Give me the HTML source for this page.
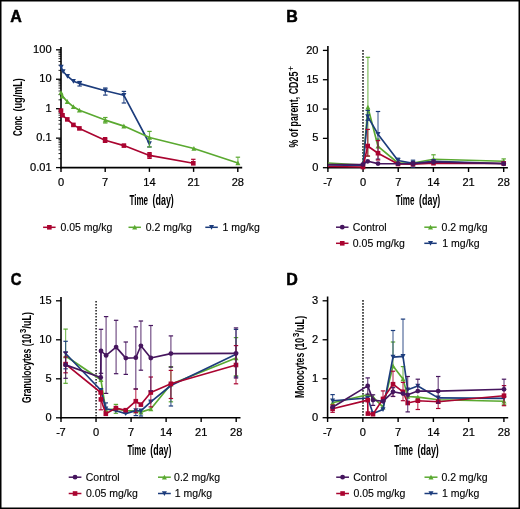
<!DOCTYPE html><html><head><meta charset="utf-8"><style>html,body{margin:0;padding:0;background:#fff;}svg{display:block;will-change:transform;}text{font-family:"Liberation Sans",sans-serif;fill:#000;}</style></head><body>
<svg width="520" height="509" viewBox="0 0 520 509">
<rect x="0" y="0" width="520" height="509" fill="#fff"/>
<text transform="translate(10.35,21.6) scale(1.0,1)" font-size="16" font-weight="bold" stroke="#000" stroke-width="0.5" stroke-linejoin="round">A</text>
<text transform="translate(286.18,21.6) scale(1.0,1)" font-size="16" font-weight="bold" stroke="#000" stroke-width="0.5" stroke-linejoin="round">B</text>
<text transform="translate(10.75,284.95) scale(0.93,1)" font-size="16" font-weight="bold" stroke="#000" stroke-width="0.5" stroke-linejoin="round">C</text>
<text transform="translate(286.18,284.9) scale(1.0,1)" font-size="16" font-weight="bold" stroke="#000" stroke-width="0.5" stroke-linejoin="round">D</text>
<line x1="61" y1="47" x2="61" y2="168.4" stroke="#000" stroke-width="1.6" />
<line x1="60.2" y1="167.6" x2="242.2" y2="167.6" stroke="#000" stroke-width="1.6" />
<line x1="56" y1="49.8" x2="61" y2="49.8" stroke="#000" stroke-width="1.3" />
<text transform="translate(51.60,52.90) scale(1.066,1)" font-size="10.4" text-anchor="end" stroke="#000" stroke-width="0.2">100</text>
<line x1="56" y1="79.25" x2="61" y2="79.25" stroke="#000" stroke-width="1.3" />
<text transform="translate(51.60,82.35) scale(1.066,1)" font-size="10.4" text-anchor="end" stroke="#000" stroke-width="0.2">10</text>
<line x1="56" y1="108.7" x2="61" y2="108.7" stroke="#000" stroke-width="1.3" />
<text transform="translate(51.60,111.80) scale(1.066,1)" font-size="10.4" text-anchor="end" stroke="#000" stroke-width="0.2">1</text>
<line x1="56" y1="138.15" x2="61" y2="138.15" stroke="#000" stroke-width="1.3" />
<text transform="translate(51.60,141.25) scale(1.066,1)" font-size="10.4" text-anchor="end" stroke="#000" stroke-width="0.2">0.1</text>
<line x1="56" y1="167.6" x2="61" y2="167.6" stroke="#000" stroke-width="1.3" />
<text transform="translate(51.60,170.70) scale(1.066,1)" font-size="10.4" text-anchor="end" stroke="#000" stroke-width="0.2">0.01</text>
<line x1="58.5" y1="70.38466662769575" x2="61" y2="70.38466662769575" stroke="#000" stroke-width="0.85" />
<line x1="58.5" y1="65.19877904850594" x2="61" y2="65.19877904850594" stroke="#000" stroke-width="0.85" />
<line x1="58.5" y1="61.5193332553915" x2="61" y2="61.5193332553915" stroke="#000" stroke-width="0.85" />
<line x1="58.5" y1="58.66533337230425" x2="61" y2="58.66533337230425" stroke="#000" stroke-width="0.85" />
<line x1="58.5" y1="56.33344567620169" x2="61" y2="56.33344567620169" stroke="#000" stroke-width="0.85" />
<line x1="58.5" y1="54.36186272158014" x2="61" y2="54.36186272158014" stroke="#000" stroke-width="0.85" />
<line x1="58.5" y1="52.65399988308726" x2="61" y2="52.65399988308726" stroke="#000" stroke-width="0.85" />
<line x1="58.5" y1="51.14755809701188" x2="61" y2="51.14755809701188" stroke="#000" stroke-width="0.85" />
<line x1="58.5" y1="99.83466662769575" x2="61" y2="99.83466662769575" stroke="#000" stroke-width="0.85" />
<line x1="58.5" y1="94.64877904850594" x2="61" y2="94.64877904850594" stroke="#000" stroke-width="0.85" />
<line x1="58.5" y1="90.9693332553915" x2="61" y2="90.9693332553915" stroke="#000" stroke-width="0.85" />
<line x1="58.5" y1="88.11533337230425" x2="61" y2="88.11533337230425" stroke="#000" stroke-width="0.85" />
<line x1="58.5" y1="85.7834456762017" x2="61" y2="85.7834456762017" stroke="#000" stroke-width="0.85" />
<line x1="58.5" y1="83.81186272158014" x2="61" y2="83.81186272158014" stroke="#000" stroke-width="0.85" />
<line x1="58.5" y1="82.10399988308725" x2="61" y2="82.10399988308725" stroke="#000" stroke-width="0.85" />
<line x1="58.5" y1="80.59755809701188" x2="61" y2="80.59755809701188" stroke="#000" stroke-width="0.85" />
<line x1="58.5" y1="129.28466662769577" x2="61" y2="129.28466662769577" stroke="#000" stroke-width="0.85" />
<line x1="58.5" y1="124.09877904850595" x2="61" y2="124.09877904850595" stroke="#000" stroke-width="0.85" />
<line x1="58.5" y1="120.4193332553915" x2="61" y2="120.4193332553915" stroke="#000" stroke-width="0.85" />
<line x1="58.5" y1="117.56533337230425" x2="61" y2="117.56533337230425" stroke="#000" stroke-width="0.85" />
<line x1="58.5" y1="115.2334456762017" x2="61" y2="115.2334456762017" stroke="#000" stroke-width="0.85" />
<line x1="58.5" y1="113.26186272158014" x2="61" y2="113.26186272158014" stroke="#000" stroke-width="0.85" />
<line x1="58.5" y1="111.55399988308727" x2="61" y2="111.55399988308727" stroke="#000" stroke-width="0.85" />
<line x1="58.5" y1="110.04755809701189" x2="61" y2="110.04755809701189" stroke="#000" stroke-width="0.85" />
<line x1="58.5" y1="158.73466662769576" x2="61" y2="158.73466662769576" stroke="#000" stroke-width="0.85" />
<line x1="58.5" y1="153.54877904850593" x2="61" y2="153.54877904850593" stroke="#000" stroke-width="0.85" />
<line x1="58.5" y1="149.8693332553915" x2="61" y2="149.8693332553915" stroke="#000" stroke-width="0.85" />
<line x1="58.5" y1="147.01533337230424" x2="61" y2="147.01533337230424" stroke="#000" stroke-width="0.85" />
<line x1="58.5" y1="144.6834456762017" x2="61" y2="144.6834456762017" stroke="#000" stroke-width="0.85" />
<line x1="58.5" y1="142.71186272158013" x2="61" y2="142.71186272158013" stroke="#000" stroke-width="0.85" />
<line x1="58.5" y1="141.00399988308726" x2="61" y2="141.00399988308726" stroke="#000" stroke-width="0.85" />
<line x1="58.5" y1="139.49755809701188" x2="61" y2="139.49755809701188" stroke="#000" stroke-width="0.85" />
<line x1="61.0" y1="167.6" x2="61.0" y2="171.9" stroke="#000" stroke-width="1.4" />
<text transform="translate(61.00,185.70) scale(1.066,1)" font-size="10.4" text-anchor="middle" stroke="#000" stroke-width="0.2">0</text>
<line x1="105.2" y1="167.6" x2="105.2" y2="171.9" stroke="#000" stroke-width="1.4" />
<text transform="translate(105.20,185.70) scale(1.066,1)" font-size="10.4" text-anchor="middle" stroke="#000" stroke-width="0.2">7</text>
<line x1="149.4" y1="167.6" x2="149.4" y2="171.9" stroke="#000" stroke-width="1.4" />
<text transform="translate(149.40,185.70) scale(1.066,1)" font-size="10.4" text-anchor="middle" stroke="#000" stroke-width="0.2">14</text>
<line x1="193.60000000000002" y1="167.6" x2="193.60000000000002" y2="171.9" stroke="#000" stroke-width="1.4" />
<text transform="translate(193.60,185.70) scale(1.066,1)" font-size="10.4" text-anchor="middle" stroke="#000" stroke-width="0.2">21</text>
<line x1="237.8" y1="167.6" x2="237.8" y2="171.9" stroke="#000" stroke-width="1.4" />
<text transform="translate(237.80,185.70) scale(1.066,1)" font-size="10.4" text-anchor="middle" stroke="#000" stroke-width="0.2">28</text>
<line x1="79.6" y1="83.6" x2="79.6" y2="81.5" stroke="#1c3c7c" stroke-width="1.2" stroke-opacity="0.75"/>
<line x1="77.39999999999999" y1="81.5" x2="81.8" y2="81.5" stroke="#1c3c7c" stroke-width="1.2" />
<line x1="79.6" y1="83.6" x2="79.6" y2="86" stroke="#1c3c7c" stroke-width="1.2" stroke-opacity="0.75"/>
<line x1="77.39999999999999" y1="86" x2="81.8" y2="86" stroke="#1c3c7c" stroke-width="1.2" />
<line x1="105.3" y1="90.8" x2="105.3" y2="88" stroke="#1c3c7c" stroke-width="1.2" stroke-opacity="0.75"/>
<line x1="103.1" y1="88" x2="107.5" y2="88" stroke="#1c3c7c" stroke-width="1.2" />
<line x1="105.3" y1="90.8" x2="105.3" y2="95.1" stroke="#1c3c7c" stroke-width="1.2" stroke-opacity="0.75"/>
<line x1="103.1" y1="95.1" x2="107.5" y2="95.1" stroke="#1c3c7c" stroke-width="1.2" />
<line x1="123.9" y1="95.3" x2="123.9" y2="91.4" stroke="#1c3c7c" stroke-width="1.2" stroke-opacity="0.75"/>
<line x1="121.7" y1="91.4" x2="126.10000000000001" y2="91.4" stroke="#1c3c7c" stroke-width="1.2" />
<line x1="123.9" y1="95.3" x2="123.9" y2="103" stroke="#1c3c7c" stroke-width="1.2" stroke-opacity="0.75"/>
<line x1="121.7" y1="103" x2="126.10000000000001" y2="103" stroke="#1c3c7c" stroke-width="1.2" />
<line x1="149.4" y1="143.5" x2="149.4" y2="147" stroke="#1c3c7c" stroke-width="1.2" stroke-opacity="0.75"/>
<line x1="147.20000000000002" y1="147" x2="151.6" y2="147" stroke="#1c3c7c" stroke-width="1.2" />
<path d="M61.20 67.10L63.10 71.50L67.50 76.20L73.40 81.20L79.60 83.60L105.30 90.80L123.90 95.30L149.40 143.50" fill="none" stroke="#1c3c7c" stroke-width="1.65" stroke-linejoin="round"/>
<path d="M58.70 64.80L63.70 64.80L61.20 69.60Z" fill="#1c3c7c"/>
<path d="M60.60 69.20L65.60 69.20L63.10 74.00Z" fill="#1c3c7c"/>
<path d="M65.00 73.90L70.00 73.90L67.50 78.70Z" fill="#1c3c7c"/>
<path d="M70.90 78.90L75.90 78.90L73.40 83.70Z" fill="#1c3c7c"/>
<path d="M77.10 81.30L82.10 81.30L79.60 86.10Z" fill="#1c3c7c"/>
<path d="M102.80 88.50L107.80 88.50L105.30 93.30Z" fill="#1c3c7c"/>
<path d="M121.40 93.00L126.40 93.00L123.90 97.80Z" fill="#1c3c7c"/>
<path d="M146.90 141.20L151.90 141.20L149.40 146.00Z" fill="#1c3c7c"/>
<line x1="105.1" y1="140.2" x2="105.1" y2="137.6" stroke="#aa0430" stroke-width="1.2" stroke-opacity="0.75"/>
<line x1="102.89999999999999" y1="137.6" x2="107.3" y2="137.6" stroke="#aa0430" stroke-width="1.2" />
<line x1="105.1" y1="140.2" x2="105.1" y2="142.4" stroke="#aa0430" stroke-width="1.2" stroke-opacity="0.75"/>
<line x1="102.89999999999999" y1="142.4" x2="107.3" y2="142.4" stroke="#aa0430" stroke-width="1.2" />
<line x1="149.5" y1="155.4" x2="149.5" y2="152.6" stroke="#aa0430" stroke-width="1.2" stroke-opacity="0.75"/>
<line x1="147.3" y1="152.6" x2="151.7" y2="152.6" stroke="#aa0430" stroke-width="1.2" />
<line x1="149.5" y1="155.4" x2="149.5" y2="158.4" stroke="#aa0430" stroke-width="1.2" stroke-opacity="0.75"/>
<line x1="147.3" y1="158.4" x2="151.7" y2="158.4" stroke="#aa0430" stroke-width="1.2" />
<line x1="193.3" y1="163.3" x2="193.3" y2="159.3" stroke="#aa0430" stroke-width="1.2" stroke-opacity="0.75"/>
<line x1="191.10000000000002" y1="159.3" x2="195.5" y2="159.3" stroke="#aa0430" stroke-width="1.2" />
<path d="M61.00 110.60L62.50 115.30L67.30 119.40L73.40 124.90L79.40 128.40L105.10 140.20L123.90 145.60L149.50 155.40L193.30 163.30" fill="none" stroke="#aa0430" stroke-width="1.65" stroke-linejoin="round"/>
<rect x="58.70" y="108.30" width="4.6" height="4.6" fill="#aa0430"/>
<rect x="60.20" y="113.00" width="4.6" height="4.6" fill="#aa0430"/>
<rect x="65.00" y="117.10" width="4.6" height="4.6" fill="#aa0430"/>
<rect x="71.10" y="122.60" width="4.6" height="4.6" fill="#aa0430"/>
<rect x="77.10" y="126.10" width="4.6" height="4.6" fill="#aa0430"/>
<rect x="102.80" y="137.90" width="4.6" height="4.6" fill="#aa0430"/>
<rect x="121.60" y="143.30" width="4.6" height="4.6" fill="#aa0430"/>
<rect x="147.20" y="153.10" width="4.6" height="4.6" fill="#aa0430"/>
<rect x="191.00" y="161.00" width="4.6" height="4.6" fill="#aa0430"/>
<line x1="105.3" y1="120.1" x2="105.3" y2="117.5" stroke="#5aa930" stroke-width="1.2" stroke-opacity="0.75"/>
<line x1="103.1" y1="117.5" x2="107.5" y2="117.5" stroke="#5aa930" stroke-width="1.2" />
<line x1="105.3" y1="120.1" x2="105.3" y2="123" stroke="#5aa930" stroke-width="1.2" stroke-opacity="0.75"/>
<line x1="103.1" y1="123" x2="107.5" y2="123" stroke="#5aa930" stroke-width="1.2" />
<line x1="149.5" y1="137.5" x2="149.5" y2="131.4" stroke="#5aa930" stroke-width="1.2" stroke-opacity="0.75"/>
<line x1="147.3" y1="131.4" x2="151.7" y2="131.4" stroke="#5aa930" stroke-width="1.2" />
<line x1="149.5" y1="137.5" x2="149.5" y2="146.9" stroke="#5aa930" stroke-width="1.2" stroke-opacity="0.75"/>
<line x1="147.3" y1="146.9" x2="151.7" y2="146.9" stroke="#5aa930" stroke-width="1.2" />
<line x1="237.9" y1="163.0" x2="237.9" y2="157.2" stroke="#5aa930" stroke-width="1.2" stroke-opacity="0.75"/>
<line x1="235.70000000000002" y1="157.2" x2="240.1" y2="157.2" stroke="#5aa930" stroke-width="1.2" />
<path d="M61.00 92.40L62.40 96.10L67.30 101.60L73.40 106.80L79.40 110.30L105.30 120.10L123.90 126.10L149.50 137.50L193.90 148.50L237.90 163.00" fill="none" stroke="#5aa930" stroke-width="1.65" stroke-linejoin="round"/>
<path d="M58.50 94.70L63.50 94.70L61.00 89.90Z" fill="#5aa930"/>
<path d="M59.90 98.40L64.90 98.40L62.40 93.60Z" fill="#5aa930"/>
<path d="M64.80 103.90L69.80 103.90L67.30 99.10Z" fill="#5aa930"/>
<path d="M70.90 109.10L75.90 109.10L73.40 104.30Z" fill="#5aa930"/>
<path d="M76.90 112.60L81.90 112.60L79.40 107.80Z" fill="#5aa930"/>
<path d="M102.80 122.40L107.80 122.40L105.30 117.60Z" fill="#5aa930"/>
<path d="M121.40 128.40L126.40 128.40L123.90 123.60Z" fill="#5aa930"/>
<path d="M147.00 139.80L152.00 139.80L149.50 135.00Z" fill="#5aa930"/>
<path d="M191.40 150.80L196.40 150.80L193.90 146.00Z" fill="#5aa930"/>
<path d="M235.40 165.30L240.40 165.30L237.90 160.50Z" fill="#5aa930"/>
<text transform="translate(129.41,204.6) scale(0.5784,1)" x="0" y="0" font-size="13.9" font-weight="bold">Time</text>
<text transform="translate(152.56,204.6) scale(0.6410,1)" x="0" y="0" font-size="13.9" font-weight="bold">(day)</text>
<text transform="translate(21.8,135.93) rotate(-90) scale(0.5871,1)" x="0" y="0" font-size="13.6" font-weight="bold">Conc</text>
<text transform="translate(21.8,111.55) rotate(-90) scale(0.6712,1)" x="0" y="0" font-size="13.6" font-weight="bold">(ug/mL)</text>
<line x1="43.1" y1="227.3" x2="55.6" y2="227.3" stroke="#aa0430" stroke-width="1.5" />
<rect x="47.05" y="225.00" width="4.6" height="4.6" fill="#aa0430"/>
<text x="60.39" y="230.70" font-size="10.5" stroke="#000" stroke-width="0.12">0.05 mg/kg</text>
<line x1="128.5" y1="227.3" x2="140.9" y2="227.3" stroke="#5aa930" stroke-width="1.5" />
<path d="M132.20 229.60L137.20 229.60L134.70 224.80Z" fill="#5aa930"/>
<text x="145.69" y="230.70" font-size="10.5" stroke="#000" stroke-width="0.12">0.2 mg/kg</text>
<line x1="205.3" y1="227.3" x2="217.8" y2="227.3" stroke="#1c3c7c" stroke-width="1.5" />
<path d="M209.05 225.00L214.05 225.00L211.55 229.80Z" fill="#1c3c7c"/>
<text x="222.60" y="230.70" font-size="10.5" stroke="#000" stroke-width="0.12">1 mg/kg</text>
<line x1="327.9" y1="46" x2="327.9" y2="168.5" stroke="#000" stroke-width="1.6" />
<line x1="327.09999999999997" y1="167.7" x2="507.9" y2="167.7" stroke="#000" stroke-width="1.6" />
<line x1="322.9" y1="167.7" x2="327.9" y2="167.7" stroke="#000" stroke-width="1.3" />
<text transform="translate(318.50,170.80) scale(1.066,1)" font-size="10.4" text-anchor="end" stroke="#000" stroke-width="0.2">0</text>
<line x1="322.9" y1="138.375" x2="327.9" y2="138.375" stroke="#000" stroke-width="1.3" />
<text transform="translate(318.50,141.47) scale(1.066,1)" font-size="10.4" text-anchor="end" stroke="#000" stroke-width="0.2">5</text>
<line x1="322.9" y1="109.05" x2="327.9" y2="109.05" stroke="#000" stroke-width="1.3" />
<text transform="translate(318.50,112.15) scale(1.066,1)" font-size="10.4" text-anchor="end" stroke="#000" stroke-width="0.2">10</text>
<line x1="322.9" y1="79.725" x2="327.9" y2="79.725" stroke="#000" stroke-width="1.3" />
<text transform="translate(318.50,82.82) scale(1.066,1)" font-size="10.4" text-anchor="end" stroke="#000" stroke-width="0.2">15</text>
<line x1="322.9" y1="50.400000000000006" x2="327.9" y2="50.400000000000006" stroke="#000" stroke-width="1.3" />
<text transform="translate(318.50,53.50) scale(1.066,1)" font-size="10.4" text-anchor="end" stroke="#000" stroke-width="0.2">20</text>
<line x1="327.9" y1="167.7" x2="327.9" y2="172.0" stroke="#000" stroke-width="1.4" />
<text transform="translate(327.90,185.80) scale(1.066,1)" font-size="10.4" text-anchor="middle" stroke="#000" stroke-width="0.2">-<tspan dx="-0.55">7</tspan></text>
<line x1="363.06" y1="167.7" x2="363.06" y2="172.0" stroke="#000" stroke-width="1.4" />
<text transform="translate(363.06,185.80) scale(1.066,1)" font-size="10.4" text-anchor="middle" stroke="#000" stroke-width="0.2">0</text>
<line x1="398.21999999999997" y1="167.7" x2="398.21999999999997" y2="172.0" stroke="#000" stroke-width="1.4" />
<text transform="translate(398.22,185.80) scale(1.066,1)" font-size="10.4" text-anchor="middle" stroke="#000" stroke-width="0.2">7</text>
<line x1="433.38" y1="167.7" x2="433.38" y2="172.0" stroke="#000" stroke-width="1.4" />
<text transform="translate(433.38,185.80) scale(1.066,1)" font-size="10.4" text-anchor="middle" stroke="#000" stroke-width="0.2">14</text>
<line x1="468.53999999999996" y1="167.7" x2="468.53999999999996" y2="172.0" stroke="#000" stroke-width="1.4" />
<text transform="translate(468.54,185.80) scale(1.066,1)" font-size="10.4" text-anchor="middle" stroke="#000" stroke-width="0.2">21</text>
<line x1="503.7" y1="167.7" x2="503.7" y2="172.0" stroke="#000" stroke-width="1.4" />
<text transform="translate(503.70,185.80) scale(1.066,1)" font-size="10.4" text-anchor="middle" stroke="#000" stroke-width="0.2">28</text>
<line x1="363" y1="50.1" x2="363" y2="167" stroke="#2a2a2a" stroke-width="1.6" stroke-dasharray="1.6 1.4"/>
<line x1="367.9" y1="107.3" x2="367.9" y2="57.3" stroke="#5aa930" stroke-width="1.2" stroke-opacity="0.75"/>
<line x1="365.7" y1="57.3" x2="370.09999999999997" y2="57.3" stroke="#5aa930" stroke-width="1.2" />
<line x1="367.9" y1="107.3" x2="367.9" y2="156.2" stroke="#5aa930" stroke-width="1.2" stroke-opacity="0.75"/>
<line x1="365.7" y1="156.2" x2="370.09999999999997" y2="156.2" stroke="#5aa930" stroke-width="1.2" />
<line x1="378" y1="146.3" x2="378" y2="139.1" stroke="#5aa930" stroke-width="1.2" stroke-opacity="0.75"/>
<line x1="375.8" y1="139.1" x2="380.2" y2="139.1" stroke="#5aa930" stroke-width="1.2" />
<line x1="433.5" y1="159.2" x2="433.5" y2="154.8" stroke="#5aa930" stroke-width="1.2" stroke-opacity="0.75"/>
<line x1="431.3" y1="154.8" x2="435.7" y2="154.8" stroke="#5aa930" stroke-width="1.2" />
<line x1="503.7" y1="161.2" x2="503.7" y2="158.9" stroke="#5aa930" stroke-width="1.2" stroke-opacity="0.75"/>
<line x1="501.5" y1="158.9" x2="505.9" y2="158.9" stroke="#5aa930" stroke-width="1.2" />
<path d="M328.00 163.00L363.00 165.00L367.90 107.30L378.00 146.30L398.00 163.00L413.00 163.00L433.50 159.20L503.70 161.20" fill="none" stroke="#5aa930" stroke-width="1.65" stroke-linejoin="round"/>
<path d="M360.50 167.30L365.50 167.30L363.00 162.50Z" fill="#5aa930"/>
<path d="M365.40 109.60L370.40 109.60L367.90 104.80Z" fill="#5aa930"/>
<path d="M375.50 148.60L380.50 148.60L378.00 143.80Z" fill="#5aa930"/>
<path d="M395.50 165.30L400.50 165.30L398.00 160.50Z" fill="#5aa930"/>
<path d="M410.50 165.30L415.50 165.30L413.00 160.50Z" fill="#5aa930"/>
<path d="M431.00 161.50L436.00 161.50L433.50 156.70Z" fill="#5aa930"/>
<path d="M501.20 163.50L506.20 163.50L503.70 158.70Z" fill="#5aa930"/>
<line x1="367.7" y1="116.5" x2="367.7" y2="110.4" stroke="#1c3c7c" stroke-width="1.2" stroke-opacity="0.75"/>
<line x1="365.5" y1="110.4" x2="369.9" y2="110.4" stroke="#1c3c7c" stroke-width="1.2" />
<line x1="367.7" y1="116.5" x2="367.7" y2="120.3" stroke="#1c3c7c" stroke-width="1.2" stroke-opacity="0.75"/>
<line x1="365.5" y1="120.3" x2="369.9" y2="120.3" stroke="#1c3c7c" stroke-width="1.2" />
<line x1="378" y1="134.2" x2="378" y2="111.5" stroke="#1c3c7c" stroke-width="1.2" stroke-opacity="0.75"/>
<line x1="375.8" y1="111.5" x2="380.2" y2="111.5" stroke="#1c3c7c" stroke-width="1.2" />
<line x1="378" y1="134.2" x2="378" y2="159.1" stroke="#1c3c7c" stroke-width="1.2" stroke-opacity="0.75"/>
<line x1="375.8" y1="159.1" x2="380.2" y2="159.1" stroke="#1c3c7c" stroke-width="1.2" />
<line x1="398" y1="160.5" x2="398" y2="158.2" stroke="#1c3c7c" stroke-width="1.2" stroke-opacity="0.75"/>
<line x1="395.8" y1="158.2" x2="400.2" y2="158.2" stroke="#1c3c7c" stroke-width="1.2" />
<line x1="413" y1="163.3" x2="413" y2="160.2" stroke="#1c3c7c" stroke-width="1.2" stroke-opacity="0.75"/>
<line x1="410.8" y1="160.2" x2="415.2" y2="160.2" stroke="#1c3c7c" stroke-width="1.2" />
<line x1="413" y1="163.3" x2="413" y2="167.1" stroke="#1c3c7c" stroke-width="1.2" stroke-opacity="0.75"/>
<line x1="410.8" y1="167.1" x2="415.2" y2="167.1" stroke="#1c3c7c" stroke-width="1.2" />
<path d="M328.00 165.00L363.00 165.50L367.70 116.50L378.00 134.20L398.00 160.50L413.00 163.30L433.50 161.30L503.70 163.50" fill="none" stroke="#1c3c7c" stroke-width="1.65" stroke-linejoin="round"/>
<path d="M360.50 163.20L365.50 163.20L363.00 168.00Z" fill="#1c3c7c"/>
<path d="M365.20 114.20L370.20 114.20L367.70 119.00Z" fill="#1c3c7c"/>
<path d="M375.50 131.90L380.50 131.90L378.00 136.70Z" fill="#1c3c7c"/>
<path d="M395.50 158.20L400.50 158.20L398.00 163.00Z" fill="#1c3c7c"/>
<path d="M410.50 161.00L415.50 161.00L413.00 165.80Z" fill="#1c3c7c"/>
<path d="M431.00 159.00L436.00 159.00L433.50 163.80Z" fill="#1c3c7c"/>
<path d="M501.20 161.20L506.20 161.20L503.70 166.00Z" fill="#1c3c7c"/>
<line x1="367.7" y1="146" x2="367.7" y2="129.4" stroke="#aa0430" stroke-width="1.2" stroke-opacity="0.75"/>
<line x1="365.5" y1="129.4" x2="369.9" y2="129.4" stroke="#aa0430" stroke-width="1.2" />
<line x1="367.7" y1="146" x2="367.7" y2="156" stroke="#aa0430" stroke-width="1.2" stroke-opacity="0.75"/>
<line x1="365.5" y1="156" x2="369.9" y2="156" stroke="#aa0430" stroke-width="1.2" />
<line x1="378" y1="153.2" x2="378" y2="140.6" stroke="#aa0430" stroke-width="1.2" stroke-opacity="0.75"/>
<line x1="375.8" y1="140.6" x2="380.2" y2="140.6" stroke="#aa0430" stroke-width="1.2" />
<line x1="378" y1="153.2" x2="378" y2="160" stroke="#aa0430" stroke-width="1.2" stroke-opacity="0.75"/>
<line x1="375.8" y1="160" x2="380.2" y2="160" stroke="#aa0430" stroke-width="1.2" />
<path d="M328.00 166.50L363.00 167.00L367.70 146.00L378.00 153.20L398.00 164.00L413.00 164.20L433.50 163.20L503.70 163.50" fill="none" stroke="#aa0430" stroke-width="1.65" stroke-linejoin="round"/>
<rect x="360.70" y="164.70" width="4.6" height="4.6" fill="#aa0430"/>
<rect x="365.40" y="143.70" width="4.6" height="4.6" fill="#aa0430"/>
<rect x="375.70" y="150.90" width="4.6" height="4.6" fill="#aa0430"/>
<rect x="395.70" y="161.70" width="4.6" height="4.6" fill="#aa0430"/>
<rect x="410.70" y="161.90" width="4.6" height="4.6" fill="#aa0430"/>
<rect x="431.20" y="160.90" width="4.6" height="4.6" fill="#aa0430"/>
<rect x="501.40" y="161.20" width="4.6" height="4.6" fill="#aa0430"/>
<path d="M328.00 164.50L363.00 164.40L367.70 161.30L378.00 163.60L398.00 163.70L413.00 163.70L433.50 162.00L503.70 163.80" fill="none" stroke="#46165e" stroke-width="1.65" stroke-linejoin="round"/>
<circle cx="363" cy="164.4" r="2.40" fill="#46165e"/>
<circle cx="367.7" cy="161.3" r="2.40" fill="#46165e"/>
<circle cx="378" cy="163.6" r="2.40" fill="#46165e"/>
<circle cx="398" cy="163.7" r="2.40" fill="#46165e"/>
<circle cx="413" cy="163.7" r="2.40" fill="#46165e"/>
<circle cx="433.5" cy="162" r="2.40" fill="#46165e"/>
<circle cx="503.7" cy="163.8" r="2.40" fill="#46165e"/>
<text transform="translate(395.81,204.6) scale(0.5798,1)" x="0" y="0" font-size="13.9" font-weight="bold">Time</text>
<text transform="translate(419.01,204.6) scale(0.6425,1)" x="0" y="0" font-size="13.9" font-weight="bold">(day)</text>
<text transform="translate(297.7,147.62) rotate(-90) scale(0.6536,1)" x="0" y="0" font-size="13.6" font-weight="bold">% of parent, CD25</text>
<text transform="translate(293.6,70.9) rotate(-90)" font-size="9">+</text>
<line x1="336" y1="227.2" x2="348.5" y2="227.2" stroke="#46165e" stroke-width="1.5" />
<circle cx="342.25" cy="227.2" r="2.40" fill="#46165e"/>
<text x="352.87" y="230.60" font-size="10.5" stroke="#000" stroke-width="0.12">Control</text>
<line x1="336" y1="243.3" x2="348.5" y2="243.3" stroke="#aa0430" stroke-width="1.5" />
<rect x="339.95" y="241.00" width="4.6" height="4.6" fill="#aa0430"/>
<text x="352.79" y="246.70" font-size="10.5" stroke="#000" stroke-width="0.12">0.05 mg/kg</text>
<line x1="424.3" y1="227.2" x2="436.7" y2="227.2" stroke="#5aa930" stroke-width="1.5" />
<path d="M428.00 229.50L433.00 229.50L430.50 224.70Z" fill="#5aa930"/>
<text x="441.59" y="230.60" font-size="10.5" stroke="#000" stroke-width="0.12">0.2 mg/kg</text>
<line x1="424.3" y1="243.3" x2="436.7" y2="243.3" stroke="#1c3c7c" stroke-width="1.5" />
<path d="M428.00 241.00L433.00 241.00L430.50 245.80Z" fill="#1c3c7c"/>
<text x="442.30" y="246.70" font-size="10.5" stroke="#000" stroke-width="0.12">1 mg/kg</text>
<line x1="61" y1="297" x2="61" y2="418.6" stroke="#000" stroke-width="1.6" />
<line x1="60.2" y1="417.8" x2="240.5" y2="417.8" stroke="#000" stroke-width="1.6" />
<line x1="56" y1="417.8" x2="61" y2="417.8" stroke="#000" stroke-width="1.3" />
<text transform="translate(51.60,420.90) scale(1.066,1)" font-size="10.4" text-anchor="end" stroke="#000" stroke-width="0.2">0</text>
<line x1="56" y1="378.8" x2="61" y2="378.8" stroke="#000" stroke-width="1.3" />
<text transform="translate(51.60,381.90) scale(1.066,1)" font-size="10.4" text-anchor="end" stroke="#000" stroke-width="0.2">5</text>
<line x1="56" y1="339.8" x2="61" y2="339.8" stroke="#000" stroke-width="1.3" />
<text transform="translate(51.60,342.90) scale(1.066,1)" font-size="10.4" text-anchor="end" stroke="#000" stroke-width="0.2">10</text>
<line x1="56" y1="300.8" x2="61" y2="300.8" stroke="#000" stroke-width="1.3" />
<text transform="translate(51.60,303.90) scale(1.066,1)" font-size="10.4" text-anchor="end" stroke="#000" stroke-width="0.2">15</text>
<line x1="61.0" y1="417.8" x2="61.0" y2="422.1" stroke="#000" stroke-width="1.4" />
<text transform="translate(61.00,435.90) scale(1.066,1)" font-size="10.4" text-anchor="middle" stroke="#000" stroke-width="0.2">-<tspan dx="-0.55">7</tspan></text>
<line x1="96.03999999999999" y1="417.8" x2="96.03999999999999" y2="422.1" stroke="#000" stroke-width="1.4" />
<text transform="translate(96.04,435.90) scale(1.066,1)" font-size="10.4" text-anchor="middle" stroke="#000" stroke-width="0.2">0</text>
<line x1="131.07999999999998" y1="417.8" x2="131.07999999999998" y2="422.1" stroke="#000" stroke-width="1.4" />
<text transform="translate(131.08,435.90) scale(1.066,1)" font-size="10.4" text-anchor="middle" stroke="#000" stroke-width="0.2">7</text>
<line x1="166.12" y1="417.8" x2="166.12" y2="422.1" stroke="#000" stroke-width="1.4" />
<text transform="translate(166.12,435.90) scale(1.066,1)" font-size="10.4" text-anchor="middle" stroke="#000" stroke-width="0.2">14</text>
<line x1="201.16" y1="417.8" x2="201.16" y2="422.1" stroke="#000" stroke-width="1.4" />
<text transform="translate(201.16,435.90) scale(1.066,1)" font-size="10.4" text-anchor="middle" stroke="#000" stroke-width="0.2">21</text>
<line x1="236.2" y1="417.8" x2="236.2" y2="422.1" stroke="#000" stroke-width="1.4" />
<text transform="translate(236.20,435.90) scale(1.066,1)" font-size="10.4" text-anchor="middle" stroke="#000" stroke-width="0.2">28</text>
<line x1="96.1" y1="300.9" x2="96.1" y2="417" stroke="#2a2a2a" stroke-width="1.6" stroke-dasharray="1.6 1.4"/>
<line x1="65.6" y1="356.0" x2="65.6" y2="329.1" stroke="#5aa930" stroke-width="1.2" stroke-opacity="0.75"/>
<line x1="63.39999999999999" y1="329.1" x2="67.8" y2="329.1" stroke="#5aa930" stroke-width="1.2" />
<line x1="65.6" y1="356.0" x2="65.6" y2="383.3" stroke="#5aa930" stroke-width="1.2" stroke-opacity="0.75"/>
<line x1="63.39999999999999" y1="383.3" x2="67.8" y2="383.3" stroke="#5aa930" stroke-width="1.2" />
<line x1="115.9" y1="409.0" x2="115.9" y2="404.4" stroke="#5aa930" stroke-width="1.2" stroke-opacity="0.75"/>
<line x1="113.7" y1="404.4" x2="118.10000000000001" y2="404.4" stroke="#5aa930" stroke-width="1.2" />
<line x1="115.9" y1="409.0" x2="115.9" y2="413.3" stroke="#5aa930" stroke-width="1.2" stroke-opacity="0.75"/>
<line x1="113.7" y1="413.3" x2="118.10000000000001" y2="413.3" stroke="#5aa930" stroke-width="1.2" />
<line x1="170.9" y1="384.3" x2="170.9" y2="366.6" stroke="#5aa930" stroke-width="1.2" stroke-opacity="0.75"/>
<line x1="168.70000000000002" y1="366.6" x2="173.1" y2="366.6" stroke="#5aa930" stroke-width="1.2" />
<line x1="170.9" y1="384.3" x2="170.9" y2="401.8" stroke="#5aa930" stroke-width="1.2" stroke-opacity="0.75"/>
<line x1="168.70000000000002" y1="401.8" x2="173.1" y2="401.8" stroke="#5aa930" stroke-width="1.2" />
<line x1="236.0" y1="357.9" x2="236.0" y2="337.6" stroke="#5aa930" stroke-width="1.2" stroke-opacity="0.75"/>
<line x1="233.8" y1="337.6" x2="238.2" y2="337.6" stroke="#5aa930" stroke-width="1.2" />
<line x1="236.0" y1="357.9" x2="236.0" y2="375.8" stroke="#5aa930" stroke-width="1.2" stroke-opacity="0.75"/>
<line x1="233.8" y1="375.8" x2="238.2" y2="375.8" stroke="#5aa930" stroke-width="1.2" />
<path d="M65.60 356.00L100.90 379.80L105.80 409.80L115.90 409.00L125.70 410.60L135.80 411.00L140.90 412.10L150.80 409.00L170.90 384.30L236.00 357.90" fill="none" stroke="#5aa930" stroke-width="1.65" stroke-linejoin="round"/>
<path d="M63.10 358.30L68.10 358.30L65.60 353.50Z" fill="#5aa930"/>
<path d="M98.40 382.10L103.40 382.10L100.90 377.30Z" fill="#5aa930"/>
<path d="M103.30 412.10L108.30 412.10L105.80 407.30Z" fill="#5aa930"/>
<path d="M113.40 411.30L118.40 411.30L115.90 406.50Z" fill="#5aa930"/>
<path d="M123.20 412.90L128.20 412.90L125.70 408.10Z" fill="#5aa930"/>
<path d="M133.30 413.30L138.30 413.30L135.80 408.50Z" fill="#5aa930"/>
<path d="M138.40 414.40L143.40 414.40L140.90 409.60Z" fill="#5aa930"/>
<path d="M148.30 411.30L153.30 411.30L150.80 406.50Z" fill="#5aa930"/>
<path d="M168.40 386.60L173.40 386.60L170.90 381.80Z" fill="#5aa930"/>
<path d="M233.50 360.20L238.50 360.20L236.00 355.40Z" fill="#5aa930"/>
<line x1="65.6" y1="353.5" x2="65.6" y2="341.3" stroke="#1c3c7c" stroke-width="1.2" stroke-opacity="0.75"/>
<line x1="63.39999999999999" y1="341.3" x2="67.8" y2="341.3" stroke="#1c3c7c" stroke-width="1.2" />
<line x1="65.6" y1="353.5" x2="65.6" y2="368.8" stroke="#1c3c7c" stroke-width="1.2" stroke-opacity="0.75"/>
<line x1="63.39999999999999" y1="368.8" x2="67.8" y2="368.8" stroke="#1c3c7c" stroke-width="1.2" />
<line x1="105.8" y1="408.7" x2="105.8" y2="402.9" stroke="#1c3c7c" stroke-width="1.2" stroke-opacity="0.75"/>
<line x1="103.6" y1="402.9" x2="108.0" y2="402.9" stroke="#1c3c7c" stroke-width="1.2" />
<line x1="135.8" y1="410.6" x2="135.8" y2="415.6" stroke="#1c3c7c" stroke-width="1.2" stroke-opacity="0.75"/>
<line x1="133.60000000000002" y1="415.6" x2="138.0" y2="415.6" stroke="#1c3c7c" stroke-width="1.2" />
<line x1="140.9" y1="410.8" x2="140.9" y2="416.0" stroke="#1c3c7c" stroke-width="1.2" stroke-opacity="0.75"/>
<line x1="138.70000000000002" y1="416.0" x2="143.1" y2="416.0" stroke="#1c3c7c" stroke-width="1.2" />
<line x1="150.8" y1="401.8" x2="150.8" y2="401.0" stroke="#1c3c7c" stroke-width="1.2" stroke-opacity="0.75"/>
<line x1="148.60000000000002" y1="401.0" x2="153.0" y2="401.0" stroke="#1c3c7c" stroke-width="1.2" />
<line x1="170.9" y1="385.5" x2="170.9" y2="406.0" stroke="#1c3c7c" stroke-width="1.2" stroke-opacity="0.75"/>
<line x1="168.70000000000002" y1="406.0" x2="173.1" y2="406.0" stroke="#1c3c7c" stroke-width="1.2" />
<line x1="236.0" y1="354.3" x2="236.0" y2="329.4" stroke="#1c3c7c" stroke-width="1.2" stroke-opacity="0.75"/>
<line x1="233.8" y1="329.4" x2="238.2" y2="329.4" stroke="#1c3c7c" stroke-width="1.2" />
<line x1="236.0" y1="354.3" x2="236.0" y2="376.9" stroke="#1c3c7c" stroke-width="1.2" stroke-opacity="0.75"/>
<line x1="233.8" y1="376.9" x2="238.2" y2="376.9" stroke="#1c3c7c" stroke-width="1.2" />
<path d="M65.60 353.50L100.90 390.30L105.80 408.70L115.90 410.80L125.70 413.60L135.80 410.60L140.90 410.80L150.80 401.80L170.90 385.50L236.00 354.30" fill="none" stroke="#1c3c7c" stroke-width="1.65" stroke-linejoin="round"/>
<path d="M63.10 351.20L68.10 351.20L65.60 356.00Z" fill="#1c3c7c"/>
<path d="M98.40 388.00L103.40 388.00L100.90 392.80Z" fill="#1c3c7c"/>
<path d="M103.30 406.40L108.30 406.40L105.80 411.20Z" fill="#1c3c7c"/>
<path d="M113.40 408.50L118.40 408.50L115.90 413.30Z" fill="#1c3c7c"/>
<path d="M123.20 411.30L128.20 411.30L125.70 416.10Z" fill="#1c3c7c"/>
<path d="M133.30 408.30L138.30 408.30L135.80 413.10Z" fill="#1c3c7c"/>
<path d="M138.40 408.50L143.40 408.50L140.90 413.30Z" fill="#1c3c7c"/>
<path d="M148.30 399.50L153.30 399.50L150.80 404.30Z" fill="#1c3c7c"/>
<path d="M168.40 383.20L173.40 383.20L170.90 388.00Z" fill="#1c3c7c"/>
<path d="M233.50 352.00L238.50 352.00L236.00 356.80Z" fill="#1c3c7c"/>
<line x1="65.6" y1="364.1" x2="65.6" y2="357.0" stroke="#aa0430" stroke-width="1.2" stroke-opacity="0.75"/>
<line x1="63.39999999999999" y1="357.0" x2="67.8" y2="357.0" stroke="#aa0430" stroke-width="1.2" />
<line x1="65.6" y1="364.1" x2="65.6" y2="372.8" stroke="#aa0430" stroke-width="1.2" stroke-opacity="0.75"/>
<line x1="63.39999999999999" y1="372.8" x2="67.8" y2="372.8" stroke="#aa0430" stroke-width="1.2" />
<line x1="100.9" y1="399.4" x2="100.9" y2="409.8" stroke="#aa0430" stroke-width="1.2" stroke-opacity="0.75"/>
<line x1="98.7" y1="409.8" x2="103.10000000000001" y2="409.8" stroke="#aa0430" stroke-width="1.2" />
<line x1="135.8" y1="401.2" x2="135.8" y2="389.0" stroke="#aa0430" stroke-width="1.2" stroke-opacity="0.75"/>
<line x1="133.60000000000002" y1="389.0" x2="138.0" y2="389.0" stroke="#aa0430" stroke-width="1.2" />
<line x1="135.8" y1="401.2" x2="135.8" y2="412.7" stroke="#aa0430" stroke-width="1.2" stroke-opacity="0.75"/>
<line x1="133.60000000000002" y1="412.7" x2="138.0" y2="412.7" stroke="#aa0430" stroke-width="1.2" />
<line x1="150.8" y1="392.5" x2="150.8" y2="377.0" stroke="#aa0430" stroke-width="1.2" stroke-opacity="0.75"/>
<line x1="148.60000000000002" y1="377.0" x2="153.0" y2="377.0" stroke="#aa0430" stroke-width="1.2" />
<line x1="150.8" y1="392.5" x2="150.8" y2="406.9" stroke="#aa0430" stroke-width="1.2" stroke-opacity="0.75"/>
<line x1="148.60000000000002" y1="406.9" x2="153.0" y2="406.9" stroke="#aa0430" stroke-width="1.2" />
<line x1="170.9" y1="383.8" x2="170.9" y2="370.4" stroke="#aa0430" stroke-width="1.2" stroke-opacity="0.75"/>
<line x1="168.70000000000002" y1="370.4" x2="173.1" y2="370.4" stroke="#aa0430" stroke-width="1.2" />
<line x1="170.9" y1="383.8" x2="170.9" y2="398.5" stroke="#aa0430" stroke-width="1.2" stroke-opacity="0.75"/>
<line x1="168.70000000000002" y1="398.5" x2="173.1" y2="398.5" stroke="#aa0430" stroke-width="1.2" />
<line x1="236.0" y1="365.0" x2="236.0" y2="345.6" stroke="#aa0430" stroke-width="1.2" stroke-opacity="0.75"/>
<line x1="233.8" y1="345.6" x2="238.2" y2="345.6" stroke="#aa0430" stroke-width="1.2" />
<line x1="236.0" y1="365.0" x2="236.0" y2="383.8" stroke="#aa0430" stroke-width="1.2" stroke-opacity="0.75"/>
<line x1="233.8" y1="383.8" x2="238.2" y2="383.8" stroke="#aa0430" stroke-width="1.2" />
<path d="M65.60 364.10L100.70 392.50L100.90 399.40L105.80 413.80L115.90 408.10L125.70 410.20L135.80 401.20L140.90 404.60L150.80 392.50L170.90 383.80L236.00 365.00" fill="none" stroke="#aa0430" stroke-width="1.65" stroke-linejoin="round"/>
<rect x="63.30" y="361.80" width="4.6" height="4.6" fill="#aa0430"/>
<rect x="98.40" y="390.20" width="4.6" height="4.6" fill="#aa0430"/>
<rect x="98.60" y="397.10" width="4.6" height="4.6" fill="#aa0430"/>
<rect x="103.50" y="411.50" width="4.6" height="4.6" fill="#aa0430"/>
<rect x="113.60" y="405.80" width="4.6" height="4.6" fill="#aa0430"/>
<rect x="123.40" y="407.90" width="4.6" height="4.6" fill="#aa0430"/>
<rect x="133.50" y="398.90" width="4.6" height="4.6" fill="#aa0430"/>
<rect x="138.60" y="402.30" width="4.6" height="4.6" fill="#aa0430"/>
<rect x="148.50" y="390.20" width="4.6" height="4.6" fill="#aa0430"/>
<rect x="168.60" y="381.50" width="4.6" height="4.6" fill="#aa0430"/>
<rect x="233.70" y="362.70" width="4.6" height="4.6" fill="#aa0430"/>
<line x1="65.6" y1="364.9" x2="65.6" y2="352.3" stroke="#46165e" stroke-width="1.2" stroke-opacity="0.75"/>
<line x1="63.39999999999999" y1="352.3" x2="67.8" y2="352.3" stroke="#46165e" stroke-width="1.2" />
<line x1="65.6" y1="364.9" x2="65.6" y2="378.3" stroke="#46165e" stroke-width="1.2" stroke-opacity="0.75"/>
<line x1="63.39999999999999" y1="378.3" x2="67.8" y2="378.3" stroke="#46165e" stroke-width="1.2" />
<line x1="101.0" y1="351.0" x2="101.0" y2="329.3" stroke="#46165e" stroke-width="1.2" stroke-opacity="0.75"/>
<line x1="98.8" y1="329.3" x2="103.2" y2="329.3" stroke="#46165e" stroke-width="1.2" />
<line x1="101.0" y1="351.0" x2="101.0" y2="373.3" stroke="#46165e" stroke-width="1.2" stroke-opacity="0.75"/>
<line x1="98.8" y1="373.3" x2="103.2" y2="373.3" stroke="#46165e" stroke-width="1.2" />
<line x1="106.1" y1="355.4" x2="106.1" y2="316.6" stroke="#46165e" stroke-width="1.2" stroke-opacity="0.75"/>
<line x1="103.89999999999999" y1="316.6" x2="108.3" y2="316.6" stroke="#46165e" stroke-width="1.2" />
<line x1="106.1" y1="355.4" x2="106.1" y2="393.4" stroke="#46165e" stroke-width="1.2" stroke-opacity="0.75"/>
<line x1="103.89999999999999" y1="393.4" x2="108.3" y2="393.4" stroke="#46165e" stroke-width="1.2" />
<line x1="116.1" y1="347.1" x2="116.1" y2="320.3" stroke="#46165e" stroke-width="1.2" stroke-opacity="0.75"/>
<line x1="113.89999999999999" y1="320.3" x2="118.3" y2="320.3" stroke="#46165e" stroke-width="1.2" />
<line x1="116.1" y1="347.1" x2="116.1" y2="373.7" stroke="#46165e" stroke-width="1.2" stroke-opacity="0.75"/>
<line x1="113.89999999999999" y1="373.7" x2="118.3" y2="373.7" stroke="#46165e" stroke-width="1.2" />
<line x1="125.8" y1="358.1" x2="125.8" y2="342.0" stroke="#46165e" stroke-width="1.2" stroke-opacity="0.75"/>
<line x1="123.6" y1="342.0" x2="128.0" y2="342.0" stroke="#46165e" stroke-width="1.2" />
<line x1="125.8" y1="358.1" x2="125.8" y2="374.4" stroke="#46165e" stroke-width="1.2" stroke-opacity="0.75"/>
<line x1="123.6" y1="374.4" x2="128.0" y2="374.4" stroke="#46165e" stroke-width="1.2" />
<line x1="135.8" y1="357.7" x2="135.8" y2="326.8" stroke="#46165e" stroke-width="1.2" stroke-opacity="0.75"/>
<line x1="133.60000000000002" y1="326.8" x2="138.0" y2="326.8" stroke="#46165e" stroke-width="1.2" />
<line x1="135.8" y1="357.7" x2="135.8" y2="389.0" stroke="#46165e" stroke-width="1.2" stroke-opacity="0.75"/>
<line x1="133.60000000000002" y1="389.0" x2="138.0" y2="389.0" stroke="#46165e" stroke-width="1.2" />
<line x1="140.9" y1="345.8" x2="140.9" y2="321.0" stroke="#46165e" stroke-width="1.2" stroke-opacity="0.75"/>
<line x1="138.70000000000002" y1="321.0" x2="143.1" y2="321.0" stroke="#46165e" stroke-width="1.2" />
<line x1="140.9" y1="345.8" x2="140.9" y2="370.2" stroke="#46165e" stroke-width="1.2" stroke-opacity="0.75"/>
<line x1="138.70000000000002" y1="370.2" x2="143.1" y2="370.2" stroke="#46165e" stroke-width="1.2" />
<line x1="150.8" y1="358.0" x2="150.8" y2="325.5" stroke="#46165e" stroke-width="1.2" stroke-opacity="0.75"/>
<line x1="148.60000000000002" y1="325.5" x2="153.0" y2="325.5" stroke="#46165e" stroke-width="1.2" />
<line x1="150.8" y1="358.0" x2="150.8" y2="391.0" stroke="#46165e" stroke-width="1.2" stroke-opacity="0.75"/>
<line x1="148.60000000000002" y1="391.0" x2="153.0" y2="391.0" stroke="#46165e" stroke-width="1.2" />
<line x1="170.9" y1="353.6" x2="170.9" y2="335.9" stroke="#46165e" stroke-width="1.2" stroke-opacity="0.75"/>
<line x1="168.70000000000002" y1="335.9" x2="173.1" y2="335.9" stroke="#46165e" stroke-width="1.2" />
<line x1="170.9" y1="353.6" x2="170.9" y2="367.2" stroke="#46165e" stroke-width="1.2" stroke-opacity="0.75"/>
<line x1="168.70000000000002" y1="367.2" x2="173.1" y2="367.2" stroke="#46165e" stroke-width="1.2" />
<line x1="236.0" y1="353.4" x2="236.0" y2="327.9" stroke="#46165e" stroke-width="1.2" stroke-opacity="0.75"/>
<line x1="233.8" y1="327.9" x2="238.2" y2="327.9" stroke="#46165e" stroke-width="1.2" />
<line x1="236.0" y1="353.4" x2="236.0" y2="378.0" stroke="#46165e" stroke-width="1.2" stroke-opacity="0.75"/>
<line x1="233.8" y1="378.0" x2="238.2" y2="378.0" stroke="#46165e" stroke-width="1.2" />
<path d="M65.60 364.90L100.70 377.50L101.00 351.00L106.10 355.40L116.10 347.10L125.80 358.10L135.80 357.70L140.90 345.80L150.80 358.00L170.90 353.60L236.00 353.40" fill="none" stroke="#46165e" stroke-width="1.65" stroke-linejoin="round"/>
<circle cx="65.6" cy="364.9" r="2.40" fill="#46165e"/>
<circle cx="100.7" cy="377.5" r="2.40" fill="#46165e"/>
<circle cx="101.0" cy="351.0" r="2.40" fill="#46165e"/>
<circle cx="106.1" cy="355.4" r="2.40" fill="#46165e"/>
<circle cx="116.1" cy="347.1" r="2.40" fill="#46165e"/>
<circle cx="125.8" cy="358.1" r="2.40" fill="#46165e"/>
<circle cx="135.8" cy="357.7" r="2.40" fill="#46165e"/>
<circle cx="140.9" cy="345.8" r="2.40" fill="#46165e"/>
<circle cx="150.8" cy="358.0" r="2.40" fill="#46165e"/>
<circle cx="170.9" cy="353.6" r="2.40" fill="#46165e"/>
<circle cx="236.0" cy="353.4" r="2.40" fill="#46165e"/>
<text transform="translate(127.41,454.6) scale(0.5730,1)" x="0" y="0" font-size="13.9" font-weight="bold">Time</text>
<text transform="translate(150.35,454.6) scale(0.6351,1)" x="0" y="0" font-size="13.9" font-weight="bold">(day)</text>
<text transform="translate(30.8,403.05) rotate(-90) scale(0.6262,1)" x="0" y="0" font-size="13.6" font-weight="bold">Granulocytes (10</text>
<text transform="translate(25.7,333.1) rotate(-90) scale(0.8,1)" font-size="9.6" font-weight="bold">3</text>
<text transform="translate(30.8,328.39) rotate(-90) scale(0.6594,1)" x="0" y="0" font-size="13.6" font-weight="bold">/uL)</text>
<line x1="68.7" y1="477.2" x2="81.4" y2="477.2" stroke="#46165e" stroke-width="1.5" />
<circle cx="75.05000000000001" cy="477.2" r="2.40" fill="#46165e"/>
<text x="85.77" y="480.60" font-size="10.5" stroke="#000" stroke-width="0.12">Control</text>
<line x1="68.7" y1="493.5" x2="81.4" y2="493.5" stroke="#aa0430" stroke-width="1.5" />
<rect x="72.75" y="491.20" width="4.6" height="4.6" fill="#aa0430"/>
<text x="85.89" y="496.90" font-size="10.5" stroke="#000" stroke-width="0.12">0.05 mg/kg</text>
<line x1="158" y1="477.2" x2="170.8" y2="477.2" stroke="#5aa930" stroke-width="1.5" />
<path d="M161.90 479.50L166.90 479.50L164.40 474.70Z" fill="#5aa930"/>
<text x="174.09" y="480.60" font-size="10.5" stroke="#000" stroke-width="0.12">0.2 mg/kg</text>
<line x1="158" y1="493.5" x2="170.8" y2="493.5" stroke="#1c3c7c" stroke-width="1.5" />
<path d="M161.90 491.20L166.90 491.20L164.40 496.00Z" fill="#1c3c7c"/>
<text x="174.80" y="496.90" font-size="10.5" stroke="#000" stroke-width="0.12">1 mg/kg</text>
<line x1="327.6" y1="296.5" x2="327.6" y2="418.5" stroke="#000" stroke-width="1.6" />
<line x1="326.8" y1="417.7" x2="508.2" y2="417.7" stroke="#000" stroke-width="1.6" />
<line x1="322.6" y1="417.7" x2="327.6" y2="417.7" stroke="#000" stroke-width="1.3" />
<text transform="translate(318.20,420.80) scale(1.066,1)" font-size="10.4" text-anchor="end" stroke="#000" stroke-width="0.2">0</text>
<line x1="322.6" y1="378.73333333333335" x2="327.6" y2="378.73333333333335" stroke="#000" stroke-width="1.3" />
<text transform="translate(318.20,381.83) scale(1.066,1)" font-size="10.4" text-anchor="end" stroke="#000" stroke-width="0.2">1</text>
<line x1="322.6" y1="339.76666666666665" x2="327.6" y2="339.76666666666665" stroke="#000" stroke-width="1.3" />
<text transform="translate(318.20,342.87) scale(1.066,1)" font-size="10.4" text-anchor="end" stroke="#000" stroke-width="0.2">2</text>
<line x1="322.6" y1="300.8" x2="327.6" y2="300.8" stroke="#000" stroke-width="1.3" />
<text transform="translate(318.20,303.90) scale(1.066,1)" font-size="10.4" text-anchor="end" stroke="#000" stroke-width="0.2">3</text>
<line x1="327.6" y1="417.7" x2="327.6" y2="422.0" stroke="#000" stroke-width="1.4" />
<text transform="translate(327.60,435.80) scale(1.066,1)" font-size="10.4" text-anchor="middle" stroke="#000" stroke-width="0.2">-<tspan dx="-0.55">7</tspan></text>
<line x1="362.86" y1="417.7" x2="362.86" y2="422.0" stroke="#000" stroke-width="1.4" />
<text transform="translate(362.86,435.80) scale(1.066,1)" font-size="10.4" text-anchor="middle" stroke="#000" stroke-width="0.2">0</text>
<line x1="398.12" y1="417.7" x2="398.12" y2="422.0" stroke="#000" stroke-width="1.4" />
<text transform="translate(398.12,435.80) scale(1.066,1)" font-size="10.4" text-anchor="middle" stroke="#000" stroke-width="0.2">7</text>
<line x1="433.38" y1="417.7" x2="433.38" y2="422.0" stroke="#000" stroke-width="1.4" />
<text transform="translate(433.38,435.80) scale(1.066,1)" font-size="10.4" text-anchor="middle" stroke="#000" stroke-width="0.2">14</text>
<line x1="468.64" y1="417.7" x2="468.64" y2="422.0" stroke="#000" stroke-width="1.4" />
<text transform="translate(468.64,435.80) scale(1.066,1)" font-size="10.4" text-anchor="middle" stroke="#000" stroke-width="0.2">21</text>
<line x1="503.9" y1="417.7" x2="503.9" y2="422.0" stroke="#000" stroke-width="1.4" />
<text transform="translate(503.90,435.80) scale(1.066,1)" font-size="10.4" text-anchor="middle" stroke="#000" stroke-width="0.2">28</text>
<line x1="363" y1="300.1" x2="363" y2="417" stroke="#2a2a2a" stroke-width="1.6" stroke-dasharray="1.6 1.4"/>
<line x1="393.0" y1="365.9" x2="393.0" y2="342.0" stroke="#5aa930" stroke-width="1.2" stroke-opacity="0.75"/>
<line x1="390.8" y1="342.0" x2="395.2" y2="342.0" stroke="#5aa930" stroke-width="1.2" />
<line x1="403.0" y1="378.9" x2="403.0" y2="366.6" stroke="#5aa930" stroke-width="1.2" stroke-opacity="0.75"/>
<line x1="400.8" y1="366.6" x2="405.2" y2="366.6" stroke="#5aa930" stroke-width="1.2" />
<line x1="504.0" y1="401.2" x2="504.0" y2="404.8" stroke="#5aa930" stroke-width="1.2" stroke-opacity="0.75"/>
<line x1="501.8" y1="404.8" x2="506.2" y2="404.8" stroke="#5aa930" stroke-width="1.2" />
<path d="M332.60 402.80L367.70 394.80L373.00 397.00L383.00 407.20L393.00 365.90L403.00 378.90L407.70 396.50L417.80 397.10L438.20 399.70L504.00 401.20" fill="none" stroke="#5aa930" stroke-width="1.65" stroke-linejoin="round"/>
<path d="M330.10 405.10L335.10 405.10L332.60 400.30Z" fill="#5aa930"/>
<path d="M365.20 397.10L370.20 397.10L367.70 392.30Z" fill="#5aa930"/>
<path d="M370.50 399.30L375.50 399.30L373.00 394.50Z" fill="#5aa930"/>
<path d="M380.50 409.50L385.50 409.50L383.00 404.70Z" fill="#5aa930"/>
<path d="M390.50 368.20L395.50 368.20L393.00 363.40Z" fill="#5aa930"/>
<path d="M400.50 381.20L405.50 381.20L403.00 376.40Z" fill="#5aa930"/>
<path d="M405.20 398.80L410.20 398.80L407.70 394.00Z" fill="#5aa930"/>
<path d="M415.30 399.40L420.30 399.40L417.80 394.60Z" fill="#5aa930"/>
<path d="M435.70 402.00L440.70 402.00L438.20 397.20Z" fill="#5aa930"/>
<path d="M501.50 403.50L506.50 403.50L504.00 398.70Z" fill="#5aa930"/>
<line x1="332.6" y1="400.7" x2="332.6" y2="394.6" stroke="#1c3c7c" stroke-width="1.2" stroke-opacity="0.75"/>
<line x1="330.40000000000003" y1="394.6" x2="334.8" y2="394.6" stroke="#1c3c7c" stroke-width="1.2" />
<line x1="393.0" y1="357.1" x2="393.0" y2="330.5" stroke="#1c3c7c" stroke-width="1.2" stroke-opacity="0.75"/>
<line x1="390.8" y1="330.5" x2="395.2" y2="330.5" stroke="#1c3c7c" stroke-width="1.2" />
<line x1="403.0" y1="356.4" x2="403.0" y2="319.1" stroke="#1c3c7c" stroke-width="1.2" stroke-opacity="0.75"/>
<line x1="400.8" y1="319.1" x2="405.2" y2="319.1" stroke="#1c3c7c" stroke-width="1.2" />
<path d="M332.60 400.70L367.70 398.00L373.00 413.60L383.00 409.50L393.00 357.10L403.00 356.40L407.70 389.80L417.80 386.00L438.20 397.90L504.00 398.40" fill="none" stroke="#1c3c7c" stroke-width="1.65" stroke-linejoin="round"/>
<path d="M330.10 398.40L335.10 398.40L332.60 403.20Z" fill="#1c3c7c"/>
<path d="M365.20 395.70L370.20 395.70L367.70 400.50Z" fill="#1c3c7c"/>
<path d="M370.50 411.30L375.50 411.30L373.00 416.10Z" fill="#1c3c7c"/>
<path d="M380.50 407.20L385.50 407.20L383.00 412.00Z" fill="#1c3c7c"/>
<path d="M390.50 354.80L395.50 354.80L393.00 359.60Z" fill="#1c3c7c"/>
<path d="M400.50 354.10L405.50 354.10L403.00 358.90Z" fill="#1c3c7c"/>
<path d="M405.20 387.50L410.20 387.50L407.70 392.30Z" fill="#1c3c7c"/>
<path d="M415.30 383.70L420.30 383.70L417.80 388.50Z" fill="#1c3c7c"/>
<path d="M435.70 395.60L440.70 395.60L438.20 400.40Z" fill="#1c3c7c"/>
<path d="M501.50 396.10L506.50 396.10L504.00 400.90Z" fill="#1c3c7c"/>
<line x1="332.6" y1="408.8" x2="332.6" y2="405.0" stroke="#aa0430" stroke-width="1.2" stroke-opacity="0.75"/>
<line x1="330.40000000000003" y1="405.0" x2="334.8" y2="405.0" stroke="#aa0430" stroke-width="1.2" />
<line x1="332.6" y1="408.8" x2="332.6" y2="412.3" stroke="#aa0430" stroke-width="1.2" stroke-opacity="0.75"/>
<line x1="330.40000000000003" y1="412.3" x2="334.8" y2="412.3" stroke="#aa0430" stroke-width="1.2" />
<line x1="383.0" y1="398.9" x2="383.0" y2="390.9" stroke="#aa0430" stroke-width="1.2" stroke-opacity="0.75"/>
<line x1="380.8" y1="390.9" x2="385.2" y2="390.9" stroke="#aa0430" stroke-width="1.2" />
<line x1="393.0" y1="384.2" x2="393.0" y2="371.2" stroke="#aa0430" stroke-width="1.2" stroke-opacity="0.75"/>
<line x1="390.8" y1="371.2" x2="395.2" y2="371.2" stroke="#aa0430" stroke-width="1.2" />
<line x1="393.0" y1="384.2" x2="393.0" y2="396.5" stroke="#aa0430" stroke-width="1.2" stroke-opacity="0.75"/>
<line x1="390.8" y1="396.5" x2="395.2" y2="396.5" stroke="#aa0430" stroke-width="1.2" />
<line x1="403.0" y1="391.8" x2="403.0" y2="382.4" stroke="#aa0430" stroke-width="1.2" stroke-opacity="0.75"/>
<line x1="400.8" y1="382.4" x2="405.2" y2="382.4" stroke="#aa0430" stroke-width="1.2" />
<line x1="403.0" y1="391.8" x2="403.0" y2="400.7" stroke="#aa0430" stroke-width="1.2" stroke-opacity="0.75"/>
<line x1="400.8" y1="400.7" x2="405.2" y2="400.7" stroke="#aa0430" stroke-width="1.2" />
<line x1="417.8" y1="400.7" x2="417.8" y2="409.5" stroke="#aa0430" stroke-width="1.2" stroke-opacity="0.75"/>
<line x1="415.6" y1="409.5" x2="420.0" y2="409.5" stroke="#aa0430" stroke-width="1.2" />
<line x1="438.2" y1="401.7" x2="438.2" y2="408.5" stroke="#aa0430" stroke-width="1.2" stroke-opacity="0.75"/>
<line x1="436.0" y1="408.5" x2="440.4" y2="408.5" stroke="#aa0430" stroke-width="1.2" />
<line x1="504.0" y1="395.7" x2="504.0" y2="385.6" stroke="#aa0430" stroke-width="1.2" stroke-opacity="0.75"/>
<line x1="501.8" y1="385.6" x2="506.2" y2="385.6" stroke="#aa0430" stroke-width="1.2" />
<line x1="504.0" y1="395.7" x2="504.0" y2="405.7" stroke="#aa0430" stroke-width="1.2" stroke-opacity="0.75"/>
<line x1="501.8" y1="405.7" x2="506.2" y2="405.7" stroke="#aa0430" stroke-width="1.2" />
<path d="M332.60 408.80L367.70 400.10L367.90 413.60L373.00 414.20L383.00 398.90L393.00 384.20L403.00 391.80L407.70 403.00L417.80 400.70L438.20 401.70L504.00 395.70" fill="none" stroke="#aa0430" stroke-width="1.65" stroke-linejoin="round"/>
<rect x="330.30" y="406.50" width="4.6" height="4.6" fill="#aa0430"/>
<rect x="365.40" y="397.80" width="4.6" height="4.6" fill="#aa0430"/>
<rect x="365.60" y="411.30" width="4.6" height="4.6" fill="#aa0430"/>
<rect x="370.70" y="411.90" width="4.6" height="4.6" fill="#aa0430"/>
<rect x="380.70" y="396.60" width="4.6" height="4.6" fill="#aa0430"/>
<rect x="390.70" y="381.90" width="4.6" height="4.6" fill="#aa0430"/>
<rect x="400.70" y="389.50" width="4.6" height="4.6" fill="#aa0430"/>
<rect x="405.40" y="400.70" width="4.6" height="4.6" fill="#aa0430"/>
<rect x="415.50" y="398.40" width="4.6" height="4.6" fill="#aa0430"/>
<rect x="435.90" y="399.40" width="4.6" height="4.6" fill="#aa0430"/>
<rect x="501.70" y="393.40" width="4.6" height="4.6" fill="#aa0430"/>
<line x1="367.7" y1="385.9" x2="367.7" y2="377.9" stroke="#46165e" stroke-width="1.2" stroke-opacity="0.75"/>
<line x1="365.5" y1="377.9" x2="369.9" y2="377.9" stroke="#46165e" stroke-width="1.2" />
<line x1="367.7" y1="385.9" x2="367.7" y2="394.2" stroke="#46165e" stroke-width="1.2" stroke-opacity="0.75"/>
<line x1="365.5" y1="394.2" x2="369.9" y2="394.2" stroke="#46165e" stroke-width="1.2" />
<line x1="373.0" y1="400.1" x2="373.0" y2="394.8" stroke="#46165e" stroke-width="1.2" stroke-opacity="0.75"/>
<line x1="370.8" y1="394.8" x2="375.2" y2="394.8" stroke="#46165e" stroke-width="1.2" />
<line x1="373.0" y1="400.1" x2="373.0" y2="405.4" stroke="#46165e" stroke-width="1.2" stroke-opacity="0.75"/>
<line x1="370.8" y1="405.4" x2="375.2" y2="405.4" stroke="#46165e" stroke-width="1.2" />
<line x1="393.0" y1="391.8" x2="393.0" y2="387.7" stroke="#46165e" stroke-width="1.2" stroke-opacity="0.75"/>
<line x1="390.8" y1="387.7" x2="395.2" y2="387.7" stroke="#46165e" stroke-width="1.2" />
<line x1="393.0" y1="391.8" x2="393.0" y2="396.4" stroke="#46165e" stroke-width="1.2" stroke-opacity="0.75"/>
<line x1="390.8" y1="396.4" x2="395.2" y2="396.4" stroke="#46165e" stroke-width="1.2" />
<line x1="407.7" y1="394.8" x2="407.7" y2="376.5" stroke="#46165e" stroke-width="1.2" stroke-opacity="0.75"/>
<line x1="405.5" y1="376.5" x2="409.9" y2="376.5" stroke="#46165e" stroke-width="1.2" />
<line x1="407.7" y1="394.8" x2="407.7" y2="411.9" stroke="#46165e" stroke-width="1.2" stroke-opacity="0.75"/>
<line x1="405.5" y1="411.9" x2="409.9" y2="411.9" stroke="#46165e" stroke-width="1.2" />
<line x1="417.8" y1="391.1" x2="417.8" y2="379.2" stroke="#46165e" stroke-width="1.2" stroke-opacity="0.75"/>
<line x1="415.6" y1="379.2" x2="420.0" y2="379.2" stroke="#46165e" stroke-width="1.2" />
<line x1="438.2" y1="391.1" x2="438.2" y2="376.5" stroke="#46165e" stroke-width="1.2" stroke-opacity="0.75"/>
<line x1="436.0" y1="376.5" x2="440.4" y2="376.5" stroke="#46165e" stroke-width="1.2" />
<line x1="438.2" y1="391.1" x2="438.2" y2="403.0" stroke="#46165e" stroke-width="1.2" stroke-opacity="0.75"/>
<line x1="436.0" y1="403.0" x2="440.4" y2="403.0" stroke="#46165e" stroke-width="1.2" />
<line x1="504.0" y1="389.3" x2="504.0" y2="379.2" stroke="#46165e" stroke-width="1.2" stroke-opacity="0.75"/>
<line x1="501.8" y1="379.2" x2="506.2" y2="379.2" stroke="#46165e" stroke-width="1.2" />
<path d="M332.60 407.20L367.70 385.90L373.00 400.10L383.00 401.30L393.00 391.80L403.00 393.60L407.70 394.80L417.80 391.10L438.20 391.10L504.00 389.30" fill="none" stroke="#46165e" stroke-width="1.65" stroke-linejoin="round"/>
<circle cx="332.6" cy="407.2" r="2.40" fill="#46165e"/>
<circle cx="367.7" cy="385.9" r="2.40" fill="#46165e"/>
<circle cx="373.0" cy="400.1" r="2.40" fill="#46165e"/>
<circle cx="383.0" cy="401.3" r="2.40" fill="#46165e"/>
<circle cx="393.0" cy="391.8" r="2.40" fill="#46165e"/>
<circle cx="403.0" cy="393.6" r="2.40" fill="#46165e"/>
<circle cx="407.7" cy="394.8" r="2.40" fill="#46165e"/>
<circle cx="417.8" cy="391.1" r="2.40" fill="#46165e"/>
<circle cx="438.2" cy="391.1" r="2.40" fill="#46165e"/>
<circle cx="504.0" cy="389.3" r="2.40" fill="#46165e"/>
<text transform="translate(394.21,454.6) scale(0.5811,1)" x="0" y="0" font-size="13.9" font-weight="bold">Time</text>
<text transform="translate(417.46,454.6) scale(0.6440,1)" x="0" y="0" font-size="13.9" font-weight="bold">(day)</text>
<text transform="translate(304.4,397.98) rotate(-90) scale(0.6376,1)" x="0" y="0" font-size="13.6" font-weight="bold">Monocytes (10</text>
<text transform="translate(299.0,337.1) rotate(-90) scale(0.8,1)" font-size="9.6" font-weight="bold">3</text>
<text transform="translate(304.4,332.69) rotate(-90) scale(0.6802,1)" x="0" y="0" font-size="13.6" font-weight="bold">/uL)</text>
<line x1="336.2" y1="477.2" x2="349" y2="477.2" stroke="#46165e" stroke-width="1.5" />
<circle cx="342.6" cy="477.2" r="2.40" fill="#46165e"/>
<text x="353.27" y="480.60" font-size="10.5" stroke="#000" stroke-width="0.12">Control</text>
<line x1="336.2" y1="493.5" x2="349" y2="493.5" stroke="#aa0430" stroke-width="1.5" />
<rect x="340.30" y="491.20" width="4.6" height="4.6" fill="#aa0430"/>
<text x="353.39" y="496.90" font-size="10.5" stroke="#000" stroke-width="0.12">0.05 mg/kg</text>
<line x1="424.5" y1="477.2" x2="437.5" y2="477.2" stroke="#5aa930" stroke-width="1.5" />
<path d="M428.50 479.50L433.50 479.50L431.00 474.70Z" fill="#5aa930"/>
<text x="441.39" y="480.60" font-size="10.5" stroke="#000" stroke-width="0.12">0.2 mg/kg</text>
<line x1="424.5" y1="493.5" x2="437.5" y2="493.5" stroke="#1c3c7c" stroke-width="1.5" />
<path d="M428.50 491.20L433.50 491.20L431.00 496.00Z" fill="#1c3c7c"/>
<text x="442.00" y="496.90" font-size="10.5" stroke="#000" stroke-width="0.12">1 mg/kg</text>
<rect x="0" y="0" width="520" height="509" fill="none" stroke="#000" stroke-width="3"/>
</svg></body></html>
